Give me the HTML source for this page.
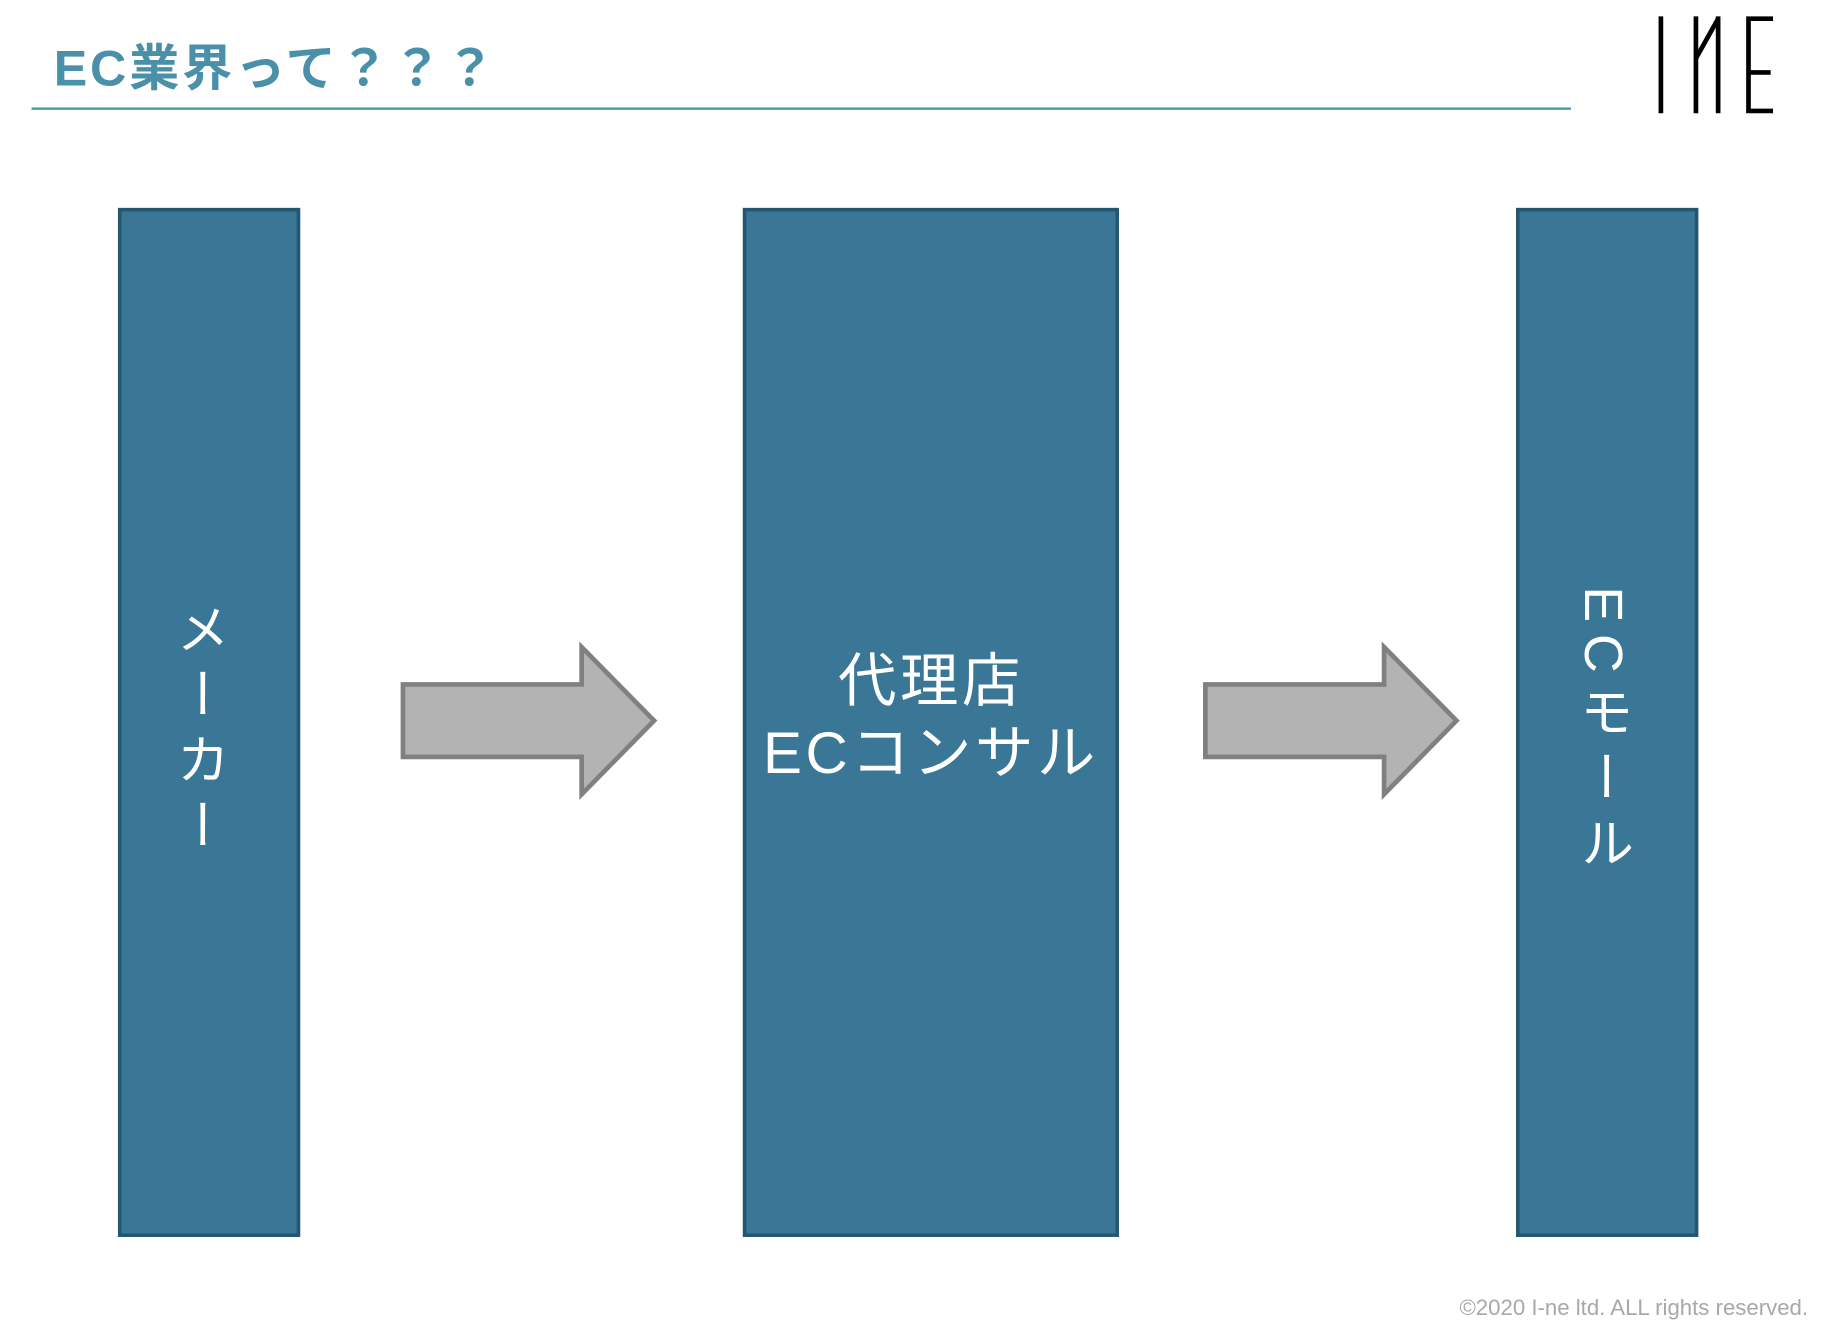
<!DOCTYPE html>
<html><head><meta charset="utf-8"><style>
html,body{margin:0;padding:0;background:#fff;overflow:hidden}
#w{width:1570px;height:1146px;position:relative;transform:scale(1.168);transform-origin:0 0}
.t{position:absolute;font-family:"Liberation Sans","Noto Sans CJK JP",sans-serif}
.box{position:absolute;top:178px;height:875px;background:#3a7696;border:3px solid #245670;box-sizing:content-box}
.v{position:absolute;writing-mode:vertical-rl;color:#fff;font-family:"Liberation Sans","Noto Sans CJK JP",sans-serif;font-size:46px;letter-spacing:10px;transform:translateX(-50%)}
</style></head><body><div id="w">
<div class="t" style="left:46px;top:24px;font-size:43px;font-weight:bold;color:#4a90a8;letter-spacing:2.4px">EC業界って？？？</div>
<div style="position:absolute;left:27px;top:92px;width:1318px;height:2px;background:#4a95ab"></div>
<svg style="position:absolute;left:0;top:0" width="1570" height="1146">
<g stroke="#000" stroke-width="4" fill="none">
<line x1="1422" y1="14" x2="1422" y2="97"/>
<line x1="1452" y1="14" x2="1452" y2="97"/>
<line x1="1452" y1="50" x2="1471" y2="16"/>
<line x1="1471" y1="14" x2="1471" y2="97"/>
<path d="M1518 16 H1497 V95 H1518"/>
<line x1="1497" y1="62" x2="1516" y2="62"/>
</g>
<path d="M345 586 H498 V554 L560 617 L498 680 V648 H345 Z" fill="#b3b3b3" stroke="#808080" stroke-width="4"/>
<path d="M1032 586 H1185 V554 L1247 617 L1185 680 V648 H1032 Z" fill="#b3b3b3" stroke="#808080" stroke-width="4"/>
</svg>
<div class="box" style="left:101px;width:150px"></div>
<div class="box" style="left:636px;width:316px"></div>
<div class="box" style="left:1298px;width:150px"></div>
<div class="v" style="left:171px;top:515px">メーカー</div>
<div class="t" style="left:636px;width:322px;top:552px;text-align:center;color:#fff;font-size:50px;line-height:62px;letter-spacing:3px">代理店<br>ECコンサル</div>
<div class="v" style="left:1373px;top:502px">ECモール</div>
<div class="t" style="right:22px;top:1110px;font-size:19px;color:#a8a8a8">©2020 I-ne ltd. ALL rights reserved.</div>
</div></body></html>
